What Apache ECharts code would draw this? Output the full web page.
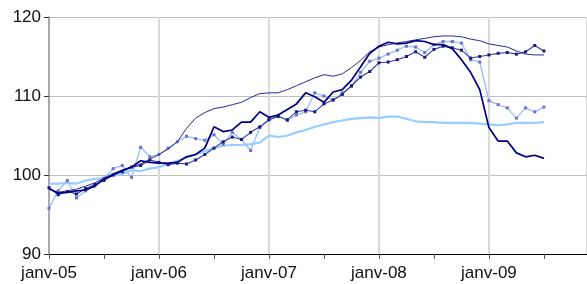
<!DOCTYPE html>
<html>
<head>
<meta charset="utf-8">
<script src="https://cdn.jsdelivr.net/npm/echarts@6/dist/echarts.min.js"></script>
<style>html,body{margin:0;padding:0;background:#fff}#c{width:587px;height:284px}</style>
</head>
<body>
<div id="c"></div>
<script>
// Monthly index positions: 0 = janv-05 ... 54 = juil-09
var tickLabels = ['janv-05', 'janv-06', 'janv-07', 'janv-08', 'janv-09'];
var yTicks = [90, 100, 110, 120];

var s1 = [98.2, 97.8, 98.0, 98.2, 98.6, 99.0, 99.6, 100.2, 100.6, 101.0, 101.4, 102.0,
  102.6, 103.3, 104.2, 105.9, 107.2, 107.9, 108.4, 108.6, 108.9, 109.2, 109.8, 110.3,
  110.4, 110.4, 110.8, 111.3, 111.8, 112.3, 112.7, 112.5, 112.8, 113.6, 114.5, 115.6,
  116.2, 116.5, 116.7, 116.9, 117.1, 117.3, 117.5, 117.6, 117.6, 117.5, 117.2, 117.0,
  116.6, 116.4, 116.2, 115.7, 115.3, 115.2, 115.2];
var s2 = [98.3, 97.7, 97.8, 98.0, 98.1, 98.6, 99.5, 100.0, 100.6, 101.0, 101.8, 101.6,
  101.5, 101.5, 101.6, 102.3, 102.6, 103.4, 106.1, 105.5, 105.7, 106.7, 106.7, 108.0,
  107.3, 107.6, 108.3, 109.0, 110.4, 109.9, 109.2, 110.5, 110.8, 112.0, 113.7, 115.4,
  116.3, 116.8, 116.6, 116.7, 117.0, 116.9, 116.5, 116.5, 116.0, 114.6, 113.0, 110.8,
  106.0, 104.3, 104.3, 102.8, 102.3, 102.5, 102.1];
var s3 = [98.4, 97.5, 97.9, 97.6, 98.3, 98.8, 99.3, 100.0, 100.4, 101.0, 101.2, 101.9,
  101.6, 101.3, 101.5, 101.4, 101.9, 102.6, 103.4, 104.2, 104.8, 104.5, 105.4, 106.1,
  107.0, 107.4, 107.0, 108.0, 108.2, 108.0, 109.0, 109.5, 110.2, 111.3, 112.4, 113.1,
  114.2, 114.3, 114.6, 115.0, 115.6, 114.9, 115.9, 116.3, 116.1, 115.8, 114.8, 115.0,
  115.2, 115.4, 115.5, 115.3, 115.6, 116.4, 115.7];
var s4 = [95.8, 98.0, 99.3, 97.1, 98.0, 98.6, 99.6, 100.8, 101.2, 99.7, 103.5, 102.3,
  102.6, 103.4, 104.2, 104.9, 104.6, 104.4, 105.1, 103.9, 105.4, 104.5, 103.1, 106.0,
  107.0, 107.5, 106.9, 107.6, 108.0, 110.4, 110.0, 109.5, 110.4, 111.2, 113.0, 114.4,
  114.8, 115.3, 115.8, 116.3, 116.2, 115.5, 116.5, 116.9, 116.9, 116.7, 114.6, 114.3,
  109.4, 108.9, 108.5, 107.2, 108.5, 108.0, 108.6];
var s5 = [98.9, 98.9, 99.0, 98.9, 99.3, 99.5, 99.6, 99.9, 100.1, 100.6, 100.5, 100.8,
  101.0, 101.4, 101.8, 102.2, 102.6, 103.0, 103.4, 103.7, 103.8, 103.8, 103.9, 104.1,
  105.0, 104.8, 105.0, 105.4, 105.7, 106.1, 106.4, 106.7, 106.9, 107.1, 107.2, 107.3,
  107.2, 107.4, 107.4, 107.1, 106.8, 106.7, 106.7, 106.6, 106.6, 106.6, 106.6, 106.5,
  106.4, 106.3, 106.4, 106.6, 106.6, 106.6, 106.7];

function pts(arr) { return arr.map(function (v, i) { return [i, v]; }); }

var chart = echarts.init(document.getElementById('c'), null, { renderer: 'canvas' });
var font = 'Liberation Sans, Arial, sans-serif';
chart.setOption({
  animation: false,
  backgroundColor: '#fff',
  grid: { left: 49, top: 17, right: 0, bottom: 30, containLabel: false },
  xAxis: {
    type: 'value', min: 0, max: 58.7, interval: 12,
    axisLine: { show: true, lineStyle: { color: '#000', width: 1 } },
    axisTick: { show: true, length: 5, lineStyle: { color: '#555' } },
    minorTick: { show: true, splitNumber: 2, length: 5, lineStyle: { color: '#555' } },
    splitLine: { show: true, lineStyle: { color: '#d9d9d9', width: 2 } },
    axisLabel: {
      margin: 11, fontSize: 17, color: '#111', fontFamily: font,
      showMaxLabel: false,
      formatter: function (v) { var k = Math.round(v / 12); return (v % 12 === 0 && tickLabels[k]) ? tickLabels[k] : ''; }
    }
  },
  yAxis: {
    type: 'value', min: yTicks[0], max: yTicks[yTicks.length - 1], interval: 10,
    axisLine: { show: true, lineStyle: { color: '#999', width: 1.5 } },
    axisTick: { show: true, length: 5, lineStyle: { color: '#333' } },
    splitLine: { show: true, lineStyle: { color: '#c0c0c0', width: 1 } },
    axisLabel: { margin: 8, fontSize: 17, color: '#111', fontFamily: font }
  },
  series: [
    { type: 'line', data: pts(s5), symbol: 'none', lineStyle: { color: '#99ccff', width: 2.2 }, z: 2 },
    { type: 'line', data: pts(s4), symbol: 'rect', symbolSize: 3, itemStyle: { color: '#7070c4' }, lineStyle: { color: '#99c4f5', width: 1.4 }, z: 3 },
    { type: 'line', data: pts(s3), symbol: 'rect', symbolSize: 3, itemStyle: { color: '#1a1a80' }, lineStyle: { color: '#3a3a9a', width: 1.1 }, z: 4 },
    { type: 'line', data: pts(s1), symbol: 'none', lineStyle: { color: '#2a2a94', width: 1 }, z: 5 },
    { type: 'line', data: pts(s2), symbol: 'none', lineStyle: { color: '#000080', width: 1.7 }, z: 6 }
  ]
});
</script>
</body>
</html>
